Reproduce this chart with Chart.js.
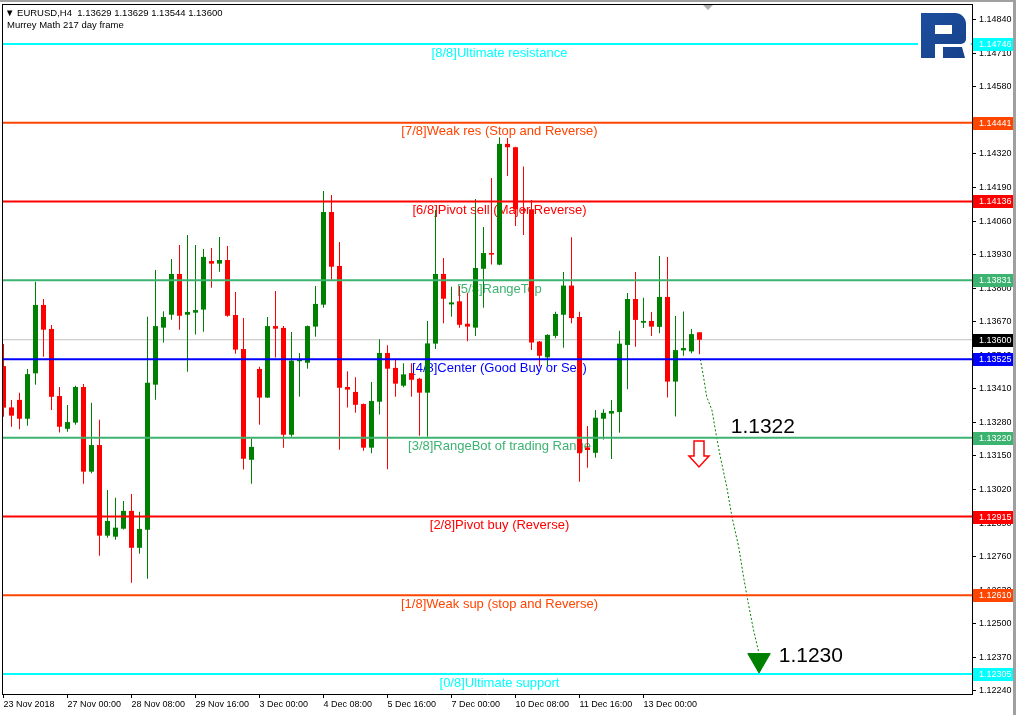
<!DOCTYPE html>
<html>
<head>
    <title>EURUSD H4 Murrey Math</title>
    <meta charset="utf-8">
    <script src="https://cdn.jsdelivr.net/npm/chart.js"></script>
    <style>
        body { margin: 0; background: #fff; }
        canvas { display: block; }
    </style>
</head>
<body>
    <canvas id="chart" width="1016" height="715"></canvas>

    <script>
        // H4 candles (oldest first)
        const opens = [1.13498, 1.13338, 1.13367, 1.13294, 1.13470, 1.13735, 1.13642, 1.13382, 1.13255, 1.13279,
            1.13417, 1.13089, 1.13192, 1.12841, 1.12837, 1.12868, 1.12937, 1.12794, 1.12864, 1.13426,
            1.13647, 1.13697, 1.13855, 1.13697, 1.13705, 1.13717, 1.13905, 1.13895, 1.13909, 1.13696,
            1.13564, 1.13135, 1.13487, 1.13376, 1.13653, 1.13646, 1.13232, 1.13517, 1.13511, 1.13651,
            1.13736, 1.14095, 1.13886, 1.13417, 1.13398, 1.13351, 1.13182, 1.13360, 1.13549, 1.13491,
            1.13422, 1.13471, 1.13449, 1.13395, 1.13585, 1.13855, 1.13737, 1.13749, 1.13662, 1.13647,
            1.13875, 1.13936, 1.13891, 1.14359, 1.14346, 1.14106, 1.14106, 1.13593, 1.13532, 1.13615,
            1.13697, 1.13810, 1.13688, 1.13183, 1.13162, 1.13294, 1.13314, 1.13320, 1.13580, 1.13758,
            1.13666, 1.13673, 1.13650, 1.13766, 1.13438, 1.13559, 1.13555, 1.13629];
        const highs = [1.13584, 1.13367, 1.13395, 1.13487, 1.13825, 1.13758, 1.13657, 1.13417, 1.13347, 1.13422,
            1.13429, 1.13356, 1.13290, 1.13018, 1.12988, 1.12975, 1.13002, 1.12934, 1.13689, 1.13870,
            1.13711, 1.13913, 1.13967, 1.14006, 1.13967, 1.13952, 1.13956, 1.13998, 1.13963, 1.13785,
            1.13684, 1.13217, 1.13495, 1.13688, 1.13789, 1.13653, 1.13630, 1.13549, 1.13655, 1.13808,
            1.14176, 1.14161, 1.13979, 1.13478, 1.13455, 1.13353, 1.13436, 1.13602, 1.13579, 1.13527,
            1.13509, 1.13509, 1.13453, 1.13673, 1.14103, 1.13917, 1.13805, 1.13808, 1.13782, 1.14145,
            1.14037, 1.14227, 1.14385, 1.14382, 1.14348, 1.14271, 1.14142, 1.13595, 1.13621, 1.13709,
            1.13863, 1.13997, 1.13709, 1.13266, 1.13328, 1.13331, 1.13367, 1.13635, 1.13781, 1.13863,
            1.13763, 1.13708, 1.13925, 1.13921, 1.13692, 1.13710, 1.13642, 1.13629];
        const lows = [1.13302, 1.13263, 1.13253, 1.13267, 1.13426, 1.13534, 1.13328, 1.13241, 1.13244, 1.13271,
            1.13042, 1.13083, 1.12763, 1.12833, 1.12825, 1.12865, 1.12659, 1.12771, 1.12674, 1.13368,
            1.13589, 1.13678, 1.13639, 1.13476, 1.13620, 1.13631, 1.13802, 1.13864, 1.13689, 1.13546,
            1.13097, 1.13042, 1.13271, 1.13374, 1.13531, 1.13182, 1.13224, 1.13379, 1.13488, 1.13612,
            1.13724, 1.13833, 1.13174, 1.13338, 1.13317, 1.13170, 1.13160, 1.13310, 1.13098, 1.13379,
            1.13416, 1.13379, 1.13228, 1.13224, 1.13564, 1.13664, 1.13689, 1.13647, 1.13594, 1.13615,
            1.13724, 1.13892, 1.13889, 1.14235, 1.14041, 1.14006, 1.13560, 1.13496, 1.13496, 1.13606,
            1.13569, 1.13664, 1.13050, 1.13104, 1.13143, 1.13214, 1.13138, 1.13240, 1.13408, 1.13573,
            1.13646, 1.13615, 1.13625, 1.13376, 1.13303, 1.13538, 1.13548, 1.13544];
        const closes = [1.13337, 1.13306, 1.13294, 1.13467, 1.13735, 1.13639, 1.13379, 1.13263, 1.13281, 1.13417,
            1.13089, 1.13192, 1.12841, 1.12898, 1.12872, 1.12937, 1.12794, 1.12867, 1.13433, 1.13653,
            1.13688, 1.13855, 1.13693, 1.13708, 1.13715, 1.13921, 1.13895, 1.13909, 1.13693, 1.13562,
            1.13139, 1.13185, 1.13376, 1.13653, 1.13643, 1.13232, 1.13519, 1.13522, 1.13653, 1.13739,
            1.14095, 1.13883, 1.13414, 1.13407, 1.13348, 1.13182, 1.13363, 1.13549, 1.13488, 1.13430,
            1.13466, 1.13445, 1.13395, 1.13586, 1.13855, 1.13759, 1.13745, 1.13658, 1.13651, 1.13878,
            1.13936, 1.13930, 1.14359, 1.14346, 1.14106, 1.14100, 1.13589, 1.13538, 1.13619, 1.13700,
            1.13810, 1.13684, 1.13160, 1.13173, 1.13298, 1.13317, 1.13324, 1.13585, 1.13758, 1.13677,
            1.13673, 1.13651, 1.13766, 1.13438, 1.13560, 1.13568, 1.13622, 1.13600];

        // one date label every 8 bars
        const xTickLabels = ['23 Nov 2018', '27 Nov 00:00', '28 Nov 08:00', '29 Nov 16:00', '3 Dec 00:00',
            '4 Dec 08:00', '5 Dec 16:00', '7 Dec 00:00', '10 Dec 08:00', '11 Dec 16:00', '13 Dec 00:00'];
        const yTickValues = [1.12240, 1.12370, 1.12500, 1.12630, 1.12760, 1.12890, 1.13020, 1.13150, 1.13280,
            1.13410, 1.13540, 1.13670, 1.13800, 1.13930, 1.14060, 1.14190, 1.14320, 1.14450, 1.14580,
            1.14710, 1.14840];

        // Murrey Math levels
        const levelPrices = [1.14746, 1.14441, 1.14136, 1.13831, 1.13525, 1.13220, 1.12915, 1.12610, 1.12305];
        const levelNames = ['[8/8]Ultimate resistance', '[7/8]Weak res (Stop and Reverse)',
            '[6/8]Pivot sell (Major Reverse)', '[5/8]RangeTop', '[4/8]Center (Good Buy or Sell)',
            '[3/8]RangeBot of trading Range', '[2/8]Pivot buy (Reverse)', '[1/8]Weak sup (stop and Reverse)',
            '[0/8]Ultimate support'];
        const levelColors = ['#00FFFF', '#FF4500', '#FF0000', '#3CB371', '#0000FF', '#3CB371', '#FF0000',
            '#FF4500', '#00FFFF'];
        const lastPrice = 1.13600;

        // forecast path (bar index, price)
        const forecastX = [87.1, 87.5, 87.9, 88.55, 89.2, 89.6, 90.4, 91.05, 91.9, 92.5, 93.1, 93.75, 94.4];
        const forecastY = [1.13525, 1.13457, 1.13379, 1.13328, 1.13212, 1.13147, 1.13031, 1.12915, 1.12798,
            1.12682, 1.12579, 1.12476, 1.12390];
        const targetX = 94.44;
        const targetY = 1.12359;
        const noteTexts = ['1.1322', '1.1230'];
        const noteX = [90.9, 96.9];
        const noteY = [1.13239, 1.12352];
        const arrowX = 86.94;
        const arrowTop = 1.13208;

        const FONT = '"Liberation Sans", "DejaVu Sans", sans-serif';
        const UP = '#008000';
        const DOWN = '#FF0000';

        const bars = opens.map((o, i) => i);
        const candleColors = bars.map(i => closes[i] >= opens[i] ? UP : DOWN);

        const datasets = [];
        levelPrices.forEach((p, i) => {
            datasets.push({
                type: 'line',
                data: [{ x: -2, y: p }, { x: 125, y: p }],
                borderColor: levelColors[i],
                borderWidth: 2,
                pointRadius: 0,
                order: 0
            });
        });
        datasets.push({
            type: 'line',
            data: forecastX.map((x, i) => ({ x: x, y: forecastY[i] })),
            borderColor: UP,
            borderWidth: 1,
            borderDash: [2, 2],
            pointRadius: 0,
            order: 0
        });
        datasets.push({
            type: 'scatter',
            data: [{ x: targetX, y: targetY }],
            pointStyle: 'triangle',
            rotation: 180,
            radius: 13,
            backgroundColor: UP,
            borderColor: UP,
            borderWidth: 1,
            order: 0
        });
        datasets.push({
            type: 'bar',
            data: bars.map(i => ({ x: i, y: [Math.min(opens[i], closes[i]), Math.max(opens[i], closes[i])] })),
            backgroundColor: candleColors,
            barThickness: 5,
            minBarLength: 1,
            grouped: false,
            inflateAmount: 0,
            order: 1
        });
        datasets.push({
            type: 'bar',
            data: bars.map(i => ({ x: i, y: [lows[i], highs[i]] })),
            backgroundColor: candleColors,
            barThickness: 1,
            grouped: false,
            inflateAmount: 0,
            order: 2
        });
        datasets.push({
            type: 'line',
            data: [{ x: -2, y: lastPrice }, { x: 125, y: lastPrice }],
            borderColor: '#C0C0C0',
            borderWidth: 1,
            pointRadius: 0,
            order: 3
        });

        const decor = {
            id: 'decor',
            beforeDraw(chart) {
                const ctx = chart.ctx;
                ctx.save();
                ctx.fillStyle = '#fff';
                ctx.fillRect(0, 0, chart.width, chart.height);
                ctx.restore();
            },
            beforeDatasetsDraw(chart) {
                const ctx = chart.ctx;
                const xs = chart.scales.x;
                const ys = chart.scales.y;
                ctx.save();
                ctx.font = '13px ' + FONT;
                ctx.textAlign = 'center';
                ctx.textBaseline = 'middle';
                levelPrices.forEach((p, i) => {
                    ctx.fillStyle = levelColors[i];
                    ctx.fillText(levelNames[i], xs.getPixelForValue(62), ys.getPixelForValue(p) + 9);
                });
                ctx.restore();
            },
            afterDraw(chart) {
                const ctx = chart.ctx;
                const area = chart.chartArea;
                const xs = chart.scales.x;
                const ys = chart.scales.y;
                ctx.save();

                // window frame
                ctx.fillStyle = '#A0A0A0';
                ctx.fillRect(0, 0, chart.width, 2);
                ctx.fillRect(1013, 0, 3, chart.height);
                ctx.fillStyle = '#000';
                ctx.fillRect(area.left, area.top, area.right - area.left, 1);
                ctx.fillRect(area.left, area.top, 1, area.bottom - area.top);
                ctx.fillStyle = '#B0B0B0';
                ctx.beginPath();
                ctx.moveTo(703, 5);
                ctx.lineTo(713, 5);
                ctx.lineTo(708, 10);
                ctx.closePath();
                ctx.fill();

                // logo
                ctx.fillStyle = '#fff';
                ctx.fillRect(918, 6, 53, 57);
                const g = ctx.createLinearGradient(921, 13, 966, 58);
                g.addColorStop(0, '#1C4E9E');
                g.addColorStop(1, '#16428A');
                ctx.fillStyle = g;
                ctx.fillRect(921, 13, 14, 45);
                ctx.beginPath();
                ctx.roundRect(921, 13, 45, 31, [0, 11, 5, 0]);
                ctx.fill();
                ctx.beginPath();
                ctx.moveTo(943, 47);
                ctx.lineTo(962, 47);
                ctx.lineTo(965, 58);
                ctx.lineTo(943, 58);
                ctx.closePath();
                ctx.fill();
                ctx.fillStyle = '#fff';
                ctx.fillRect(935, 25, 17, 9);

                // price tags on the right axis
                ctx.font = '9px ' + FONT;
                ctx.textAlign = 'left';
                ctx.textBaseline = 'middle';
                const tags = levelPrices.map((p, i) => [p, levelColors[i]]).concat([[lastPrice, '#000']]);
                tags.forEach(([p, c]) => {
                    const y = Math.round(ys.getPixelForValue(p));
                    ctx.fillStyle = c;
                    ctx.fillRect(area.right + 1, y - 6, 40, 13);
                    ctx.fillStyle = '#fff';
                    ctx.fillText(p.toFixed(5), area.right + 7, y + 0.5);
                });

                // header
                ctx.fillStyle = '#000';
                ctx.font = '9.5px ' + FONT;
                ctx.fillText('\u25BC EURUSD,H4  1.13629 1.13629 1.13544 1.13600', 5, 13);
                ctx.fillText('Murrey Math 217 day frame', 7, 25);

                // forecast notes
                ctx.font = '21px ' + FONT;
                ctx.textBaseline = 'alphabetic';
                noteTexts.forEach((t, i) => {
                    ctx.fillText(t, xs.getPixelForValue(noteX[i]), ys.getPixelForValue(noteY[i]));
                });

                // hollow down arrow
                const ax = Math.round(xs.getPixelForValue(arrowX));
                const at = ys.getPixelForValue(arrowTop);
                ctx.beginPath();
                ctx.moveTo(ax - 5, at);
                ctx.lineTo(ax + 5, at);
                ctx.lineTo(ax + 5, at + 15);
                ctx.lineTo(ax + 10, at + 15);
                ctx.lineTo(ax, at + 26);
                ctx.lineTo(ax - 10, at + 15);
                ctx.lineTo(ax - 5, at + 15);
                ctx.closePath();
                ctx.fillStyle = '#fff';
                ctx.fill();
                ctx.strokeStyle = '#FF0000';
                ctx.lineWidth = 1.5;
                ctx.stroke();

                ctx.restore();
            }
        };

        new Chart(document.getElementById('chart'), {
            type: 'bar',
            data: { datasets: datasets },
            options: {
                responsive: false,
                animation: false,
                events: [],
                layout: { autoPadding: false, padding: { left: 2, top: 4, right: 0, bottom: 0 } },
                plugins: { legend: { display: false }, tooltip: { enabled: false } },
                scales: {
                    x: {
                        type: 'linear',
                        position: 'bottom',
                        min: -0.1875,
                        max: 121.0625,
                        offset: false,
                        bounds: 'data',
                        grid: { drawOnChartArea: false, offset: false, tickLength: 4, color: '#000' },
                        border: { color: '#000', width: 1 },
                        ticks: {
                            align: 'start',
                            padding: 1,
                            maxRotation: 0,
                            autoSkip: false,
                            color: '#000',
                            font: { family: FONT, size: 9 },
                            callback: v => xTickLabels[Math.round(v / 8)]
                        },
                        afterBuildTicks: s => { s.ticks = xTickLabels.map((l, i) => ({ value: i * 8 })); },
                        afterFit: s => { s.height = 21; s.paddingLeft = 0; s.paddingRight = 0; }
                    },
                    y: {
                        type: 'linear',
                        position: 'right',
                        min: 1.122275,
                        max: 1.14901,
                        bounds: 'data',
                        grid: { drawOnChartArea: false, tickLength: 4, color: '#000' },
                        border: { color: '#000', width: 1 },
                        ticks: {
                            padding: 3,
                            autoSkip: false,
                            color: '#000',
                            font: { family: FONT, size: 9 },
                            callback: v => v.toFixed(5)
                        },
                        afterBuildTicks: s => { s.ticks = yTickValues.map(v => ({ value: v })); },
                        afterFit: s => { s.width = 44; s.paddingTop = 0; s.paddingBottom = 0; }
                    }
                }
            },
            plugins: [decor]
        });
    </script>
</body>
</html>
